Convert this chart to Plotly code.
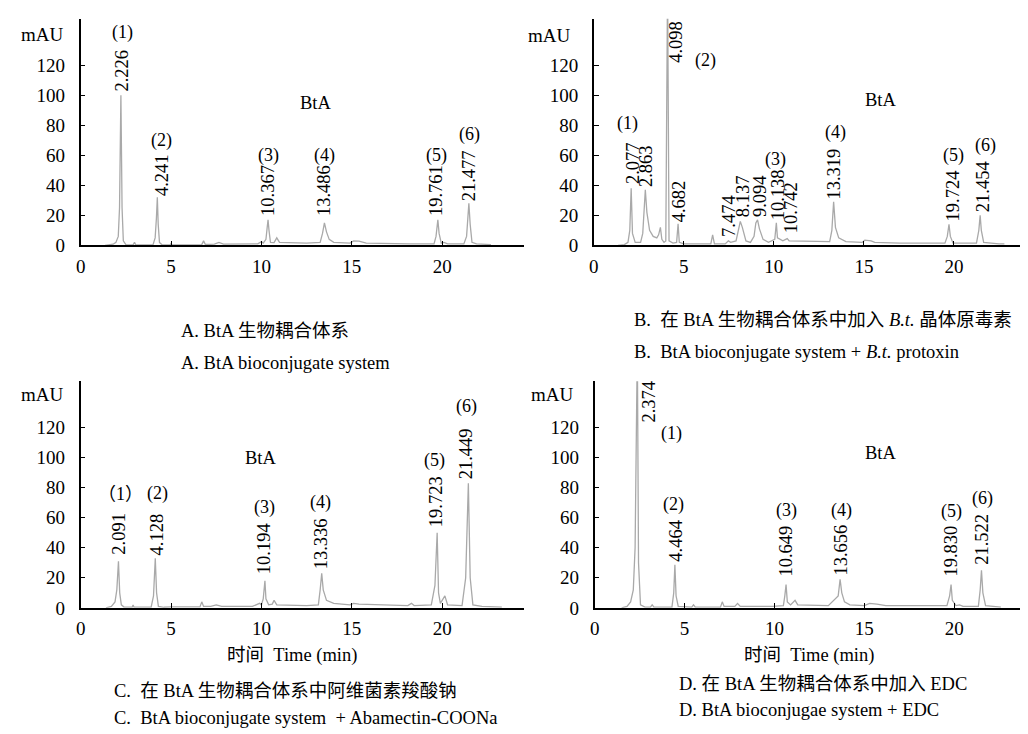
import plotly.graph_objects as go

W, H = 1028, 734

# ---------------- data (time in min, absorbance in mAU) ----------------
a_time = [1.35, 1.6, 1.8, 1.95, 2.08, 2.15, 2.226, 2.29, 2.36, 2.5, 2.9, 2.98, 3.05, 4.0, 4.12, 4.19, 4.241, 4.29,
          4.36, 4.5, 4.95, 5.0, 5.05, 6.7, 6.8, 6.9, 7.4, 7.65, 7.9, 9.8, 10.0, 10.1, 10.25, 10.32, 10.367, 10.42,
          10.5, 10.7, 10.85, 11.0, 12.5, 13.25, 13.38, 13.486, 13.6, 13.75, 14.0, 14.9, 15.1, 15.4, 15.8, 18.2,
          19.55, 19.66, 19.761, 19.83, 19.95, 20.1, 20.3, 21.2, 21.35, 21.42, 21.477, 21.55, 21.65, 21.9, 22.7]
a_mau = [0, 0.3, 0.8, 2, 6, 25, 100, 25, 3, 0.5, 0.3, 2, 0.3, 0.3, 5, 18, 32, 14,
         2, 0.4, 0.4, 1.2, 0.4, 0.5, 3, 0.6, 0.8, 2, 0.8, 1, 2.5, 1.5, 4, 12, 17, 10,
         2, 1.8, 5, 2, 1.5, 2, 8, 15, 9, 4, 2, 1.5, 3, 2.8, 1.5, 1,
         1, 6, 17, 8, 1.5, 2, 1, 1, 6, 18, 28, 14, 2, 1, 0.5]

b_time = [1.35, 1.7, 1.9, 2.0, 2.077, 2.15, 2.3, 2.6, 2.72, 2.8, 2.863, 2.95, 3.1, 3.3, 3.5, 3.6, 3.7, 3.78, 3.9,
          4.0, 4.098, 4.18, 4.4, 4.6, 4.682, 4.75, 5.0, 6.5, 6.6, 6.7, 7.3, 7.474, 7.6, 7.9, 8.05, 8.137, 8.25,
          8.45, 8.7, 8.9, 9.0, 9.094, 9.2, 9.4, 9.7, 10.05, 10.138, 10.2, 10.5, 10.65, 10.742, 10.85, 12.0, 13.1,
          13.22, 13.319, 13.42, 13.6, 14.0, 14.9, 15.05, 15.4, 15.6, 17.0, 19.5, 19.63, 19.724, 19.8, 19.95, 20.2,
          21.25, 21.38, 21.454, 21.52, 21.65, 22.5, 22.8]
b_mau = [0, 0.5, 2, 10, 38, 8, 2, 2, 8, 28, 37, 22, 10, 6, 5, 7, 12, 4, 2,
         3, 175, 3, 1.5, 2, 14.4, 2, 1, 1, 7, 1, 1, 3, 2, 3, 12, 16, 12,
         3, 2, 6, 15, 17, 11, 4, 2, 4, 15, 5, 3, 4, 4.5, 3, 2.5, 2.5,
         10, 29, 12, 5, 2.5, 2, 3.5, 3, 2, 1.5, 1.5, 6, 14, 6, 1.5, 1.5,
         1.5, 10, 20, 10, 2, 1, 1]

c_time = [1.4, 1.7, 1.9, 2.0, 2.091, 2.16, 2.25, 2.4, 2.85, 2.9, 2.95, 3.9, 4.03, 4.128, 4.2, 4.3, 4.6, 5.0, 6.6,
          6.7, 6.8, 7.2, 7.5, 7.8, 9.5, 9.9, 10.0, 10.1, 10.194, 10.25, 10.4, 10.6, 10.7, 10.85, 12.5, 13.15,
          13.25, 13.336, 13.42, 13.6, 14.0, 14.9, 15.1, 15.4, 18.1, 18.3, 18.45, 19.4, 19.6, 19.723, 19.8, 19.9,
          20.05, 20.15, 20.3, 21.1, 21.3, 21.449, 21.55, 21.7, 22.2, 23.3]
c_mau = [0, 1, 4, 12, 31, 10, 2, 0.5, 0.5, 2, 0.5, 0.5, 8, 33, 10, 1, 0.4, 0.6, 0.6,
         4, 1, 1, 2, 1, 1, 3, 2, 6, 18, 6, 2, 2.5, 5, 2, 1.5, 2,
         12, 23, 12, 5, 3, 2, 3, 2.5, 1.5, 3, 1.5, 2, 15, 50, 10, 3,
         6, 8, 2, 1.5, 20, 83, 20, 2, 1, 0.5]

d_time = [1.5, 1.8, 2.0, 2.15, 2.25, 2.374, 2.44, 2.55, 2.8, 3.1, 3.2, 3.3, 4.3, 4.4, 4.464, 4.53, 4.65, 5.4, 5.5,
          5.6, 7.0, 7.1, 7.2, 7.8, 7.95, 8.1, 9.9, 10.5, 10.58, 10.649, 10.72, 10.9, 11.15, 11.3, 13.0, 13.55,
          13.656, 13.75, 13.9, 14.2, 15.0, 15.3, 15.7, 16.2, 19.6, 19.75, 19.83, 19.9, 20.1, 20.3, 20.5, 21.35,
          21.45, 21.522, 21.6, 21.75, 22.6]
d_mau = [0, 1, 4, 12, 40, 175, 30, 2, 0.5, 0.5, 2, 0.5, 0.5, 10, 28.7, 8, 1, 0.5, 2,
         0.5, 0.5, 4, 1, 1, 3, 1, 1, 1.5, 8, 15.5, 4, 2, 5, 2, 1.5, 8,
         19, 10, 4, 2, 1.5, 3, 2.5, 1.5, 1.5, 8, 15.5, 5, 1.5, 2, 1, 1,
         12, 25, 10, 1.5, 0.5]

# retention-time labels: (text, x in min, bottom y in mAU)
a_rt = [("2.226", 2.31, 102), ("4.241", 4.47, 32.5), ("10.367", 10.4, 19), ("13.486", 13.5, 19),
        ("19.761", 19.7, 19), ("21.477", 21.5, 28.5)]
a_pk = [("(1)", 2.3, 142), ("(2)", 4.45, 70), ("(3)", 10.4, 60), ("(4)", 13.5, 60), ("(5)", 19.7, 60), ("(6)", 21.5, 74)]

b_rt = [("2.077", 2.22, 40), ("2.863", 2.94, 38), ("4.098", 4.52, 121), ("4.682", 4.70, 15), ("7.474", 7.51, 5),
        ("8.137", 8.28, 18), ("9.094", 9.27, 18), ("10.138", 10.2, 16), ("10.742", 10.92, 7.4),
        ("13.319", 13.34, 29.5), ("19.724", 19.95, 15), ("21.454", 21.65, 21.6)]
b_pk = [("(1)", 1.85, 81), ("(2)", 6.2, 123), ("(3)", 10.1, 57), ("(4)", 13.4, 75), ("(5)", 19.95, 60), ("(6)", 21.76, 66.5)]

c_rt = [("2.091", 2.14, 35), ("4.128", 4.2, 34), ("10.194", 10.15, 21.5), ("13.336", 13.27, 25),
        ("19.723", 19.63, 53), ("21.449", 21.3, 85)]
c_pk = [("（1）", 2.2, 76), ("(2)", 4.25, 76), ("(3)", 10.15, 67), ("(4)", 13.27, 70), ("(5)", 19.6, 98), ("(6)", 21.35, 134)]

d_rt = [("2.374", 3.05, 123), ("4.464", 4.52, 30), ("10.649", 10.66, 20), ("13.656", 13.69, 21),
        ("19.830", 19.84, 20), ("21.522", 21.58, 28)]
d_pk = [("(1)", 4.3, 116), ("(2)", 4.37, 69), ("(3)", 10.7, 65), ("(4)", 13.72, 65), ("(5)", 19.84, 64), ("(6)", 21.58, 72.5)]

x_ticks = [0, 5, 10, 15, 20]
y_ticks = [0, 20, 40, 60, 80, 100, 120]

captions = {
    "A1": "A. BtA 生物耦合体系",
    "A2": "A. BtA bioconjugate system",
    "B1": "B.  在 BtA 生物耦合体系中加入 <i>B.t.</i> 晶体原毒素",
    "B2": "B.  BtA bioconjugate system + <i>B.t.</i> protoxin",
    "C1": "C.  在 BtA 生物耦合体系中阿维菌素羧酸钠",
    "C2": "C.  BtA bioconjugate system  + Abamectin-COONa",
    "D1": "D. 在 BtA 生物耦合体系中加入 EDC",
    "D2": "D. BtA bioconjugae system + EDC",
    "T": "时间  Time (min)",
}

# ---------------- layout geometry (pixels) ----------------
FONT = "'Liberation Serif', 'Noto Sans CJK SC', serif"
LINE = "#a9a9a9"
TICK_SIZE = 19
LABEL_SIZE = 18.5
PK_SIZE = 18
CAP_SIZE = 18.5

def px(x):
    return x / W

def py(y):
    return 1 - y / H

panels = [
    ("", a_time, a_mau, a_rt, a_pk, 68, 513, 241, 11, (13.0, 95), (30, 27)),
    ("2", b_time, b_mau, b_rt, b_pk, 583.6, 1027, 241, 11, (15.9, 97), (539, 28)),
    ("3", c_time, c_mau, c_rt, c_pk, 68, 513, 609, 379, (9.95, 100), (30, 392)),
    ("4", d_time, d_mau, d_rt, d_pk, 584.5, 1027, 609, 379, (15.9, 103), (542, 392)),
]

fig = go.Figure()
layout = dict(
    width=W, height=H, margin=dict(l=0, r=0, t=0, b=0),
    paper_bgcolor="white", plot_bgcolor="white", showlegend=False,
    font=dict(family=FONT, size=15, color="black"),
)
annotations = []
PX_PER_UNIT = 1.525

for name, t, v, rt, pk, xl, xr, yb, yt, bta, mau in panels:
    xa = "x" + name
    ya = "y" + name
    fig.add_trace(go.Scatter(x=t, y=v, mode="lines", line=dict(color=LINE, width=1.3),
                             xaxis=xa, yaxis=ya, hoverinfo="skip"))
    ymax = (yb - yt) / PX_PER_UNIT
    layout["xaxis" + name] = dict(
        domain=[px(xl), px(xr)], range=[0, 24.5], anchor=ya, tickvals=x_ticks,
        showline=True, linecolor="black", linewidth=1.6, ticks="inside", ticklen=5,
        tickcolor="black", tickwidth=1.2, showgrid=False, zeroline=False,
        ticklabelstandoff=3,
        tickfont=dict(family=FONT, size=TICK_SIZE, color="black"))
    layout["yaxis" + name] = dict(
        domain=[py(yb), py(yt)], range=[0, ymax], anchor=xa, tickvals=y_ticks,
        showline=True, linecolor="black", linewidth=1.6, ticks="inside", ticklen=5,
        tickcolor="black", tickwidth=1.2, showgrid=False, zeroline=False,
        ticklabelstandoff=10,
        tickfont=dict(family=FONT, size=TICK_SIZE, color="black"))
    for txt, x, y in rt:
        annotations.append(dict(text=txt, x=x, y=y, xref=xa, yref=ya, textangle=-90,
                                xanchor="center", yanchor="bottom", showarrow=False,
                                borderpad=0,
                                font=dict(family=FONT, size=LABEL_SIZE, color="black")))
    for txt, x, y in pk:
        annotations.append(dict(text=txt, x=x, y=y, xref=xa, yref=ya,
                                xanchor="center", yanchor="middle", showarrow=False,
                                font=dict(family=FONT, size=PK_SIZE, color="black")))
    annotations.append(dict(text="BtA", x=bta[0], y=bta[1], xref=xa, yref=ya, showarrow=False,
                            xanchor="center", yanchor="middle",
                            font=dict(family=FONT, size=LABEL_SIZE, color="black")))
    annotations.append(dict(text="mAU", x=px(mau[0]), y=py(mau[1]), xref="paper", yref="paper",
                            showarrow=False, xanchor="center", yanchor="middle",
                            font=dict(family=FONT, size=TICK_SIZE, color="black")))

def cap(key, x, y, anchor="left"):
    annotations.append(dict(text=captions[key], x=px(x), y=py(y), xref="paper", yref="paper",
                            showarrow=False, xanchor=anchor, yanchor="middle", align=anchor,
                            borderpad=0,
                            font=dict(family=FONT, size=CAP_SIZE, color="black")))

cap("A1", 168, 328)
cap("A2", 168, 360)
cap("B1", 623, 317)
cap("B2", 623, 349)
cap("T", 280, 657, "center")
cap("T", 800, 657, "center")
cap("C1", 100, 693)
cap("C2", 100, 721)
cap("D1", 668, 686)
cap("D2", 668, 713)

layout["annotations"] = annotations
fig.update_layout(**layout)
fig.write_html("out.html")
